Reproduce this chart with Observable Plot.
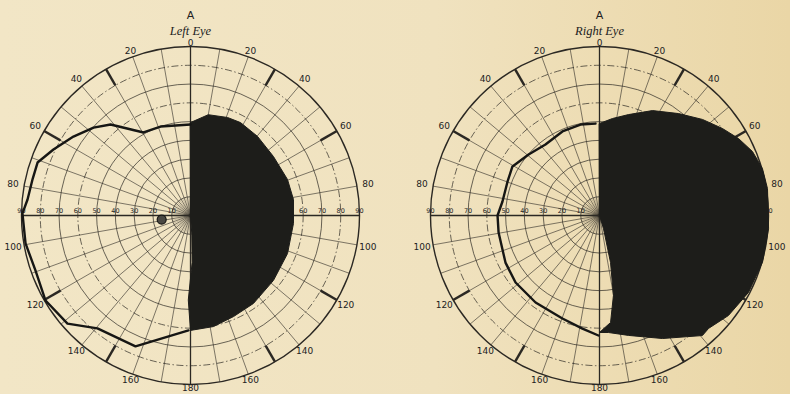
<!DOCTYPE html>
<html><head><meta charset="utf-8">
<script src="https://cdn.jsdelivr.net/npm/d3@7"></script>
<script src="https://cdn.jsdelivr.net/npm/@observablehq/plot@0.6"></script>
<style>
html,body{margin:0;padding:0;}
body{width:790px;height:394px;overflow:hidden;background:linear-gradient(90deg,#f2e6c6 0%,#f0e2bf 55%,#ead6a6 100%);}
#chart svg{display:block;}
</style></head><body><div id="chart"></div>
<script>
// ---------- data ----------
const eyes = ["Left Eye", "Right Eye"];
const titleLetters = ["A", "A"];
const gridEcc = [10, 20, 30, 40, 50, 60, 70, 80, 90];
const dashedEcc = [60, 80];
const meridianAngles = [0,10,20,30,40,50,60,70,80,90,100,110,120,130,140,150,160,170,180,190,200,210,220,230,240,250,260,270,280,290,300,310,320,330,340,350];
const centerSpokeAngles = [5,15,25,35,45,55,65,75,85,95,105,115,125,135,145,155,165,175,185,195,205,215,225,235,245,255,265,275,285,295,305,315,325,335,345,355];
const boldTickAngles = [30, 60, 120, 150, 210, 240, 300, 330];
const rimLabelAngles = [0, 20, 40, 60, 80, 100, 120, 140, 160, 180, -20, -40, -60, -80, -100, -120, -140, -160];
const rimLabels = ["0","20","40","60","80","100","120","140","160","180","20","40","60","80","100","120","140","160"];
const scaleLabelEcc = [10, 20, 30, 40, 50, 60, 70, 80, 90];
const scaleLabels = ["10","20","30","40","50","60","70","80","90"];

// Left eye: outer isopter (thick line) on the temporal side
const leftIsopterAngle = [0, -18.6, -29.5, -41.3, -47.8, -56, -64.3, -70.9, -77, -84.4, -89.3, -99.6, -109.5, -120.4, -131.3, -140.5, -157.2, -179];
const leftIsopterEcc   = [48.5, 50, 50.8, 64.5, 69.7, 75.2, 81, 86.2, 86.3, 87.2, 89.5, 89.1, 87.6, 89.5, 87.2, 77.9, 75.6, 61.2];
// Left eye: blind (black) half
const leftBlindAngle = [0, 10, 20.7, 28.3, 40.3, 54.6, 69.6, 81.2, 94.4, 111.4, 128, 144.4, 156.9, 168.3, 180, 181.5, 178, 176, 0];
const leftBlindEcc   = [49.5, 54.5, 55.8, 56.2, 55.2, 54.2, 55.1, 55.5, 55, 55.5, 56.1, 57.6, 58.5, 60.4, 61.2, 45, 25, 10, 0];
// Left eye: blind spot
const leftSpotAngle = [262];
const leftSpotEcc = [15.5];

// Right eye: isopter (thick line)
const rightIsopterAngle = [-2.5, -11.8, -23.8, -37.3, -49.3, -60.6, -69.7, -81.8, -90, -99.6, -116.6, -128.6, -143.7, -160.2, -171.4, -179.5];
const rightIsopterEcc   = [49, 49.5, 48.9, 47.5, 49.8, 53.2, 52.2, 52.2, 54.3, 54.5, 56, 57.2, 57.5, 58.3, 60.9, 63.9];
// Right eye: blind (black) area
const rightBlindAngle = [0, 7.6, 16, 26.8, 37.8, 47, 54.7, 61, 67.3, 73.9, 80.9, 94.4, 106, 117.3, 127.8, 136, 139.4, 152.9, 166.4, 175.6, 180, 174.1, 170.1, 166.8, 162.9, 0];
const rightBlindEcc   = [49, 52.1, 55.9, 62.6, 68.7, 75, 80.2, 84.6, 88.3, 90.3, 90.6, 90.3, 90.3, 89.3, 86.9, 83.6, 84.2, 73.6, 65.7, 62.5, 62.3, 57.3, 43.2, 25.7, 7.2, 0];

// ---------- helpers ----------
const rad = a => a * Math.PI / 180;
const px = (a, e) => e * Math.sin(rad(a));
const py = (a, e) => e * Math.cos(rad(a));
const zip = (eye, A, E) => A.map((a, i) => ({eye, a, e: E[i]}));
const perEye = f => eyes.flatMap(eye => f(eye));

const K = 169 / 90;            // pixels per degree of eccentricity
const W = 790, H = 394, CY = 215;
const pIn = 2 - (W - 1) / 409; // so that the two centres are 409px apart
const band = 409 * (1 - pIn);
const xHalf = band / 2 / K;

const circles = perEye(eye => gridEcc.filter(e => e < 90 && !dashedEcc.includes(e)).map(e => ({eye, e})));
const dashCircles = perEye(eye => dashedEcc.map(e => ({eye, e})));
const outer = perEye(eye => [{eye, e: 90}]);
const meridians = perEye(eye => meridianAngles.filter(a => a % 90 !== 0).map(a => ({eye, a})));
const spokes = perEye(eye => centerSpokeAngles.map(a => ({eye, a})));
const ticks = perEye(eye => boldTickAngles.map(a => ({eye, a})));
const rim = perEye(eye => rimLabelAngles.map((a, i) => ({eye, a, t: rimLabels[i]})));
const scale = perEye(eye => [...scaleLabelEcc.map((e, i) => ({eye, x: -e, t: scaleLabels[i]})), ...scaleLabelEcc.map((e, i) => ({eye, x: e, t: scaleLabels[i]}))]);
const axesV = perEye(eye => [{eye}]);

const leftIso = zip("Left Eye", leftIsopterAngle, leftIsopterEcc);
const leftFill = zip("Left Eye", leftBlindAngle, leftBlindEcc);
const rightIso = zip("Right Eye", rightIsopterAngle, rightIsopterEcc);
const rightFill = zip("Right Eye", rightBlindAngle, rightBlindEcc);
const spot = zip("Left Eye", leftSpotAngle, leftSpotEcc);

const ink = "#2b2823";
const rimR = a => 92 + 4 * Math.abs(Math.sin(rad(a)));

const chart = Plot.plot({
  width: W, height: H,
  marginLeft: 0, marginRight: 1, marginTop: 0, marginBottom: 0,
  style: {background: "transparent", color: ink},
  fx: {domain: eyes, paddingInner: pIn, paddingOuter: 0, round: false, axis: null, label: null},
  x: {domain: [-xHalf, xHalf], axis: null},
  y: {domain: [-(H - CY) / K, CY / K], axis: null},
  r: {type: "linear", domain: [0, 90], range: [0, 90 * K]},
  marks: [
    Plot.dot(circles, {fx: "eye", x: 0, y: 0, r: "e", fill: "none", stroke: ink, strokeWidth: 0.7}),
    Plot.dot(dashCircles, {fx: "eye", x: 0, y: 0, r: "e", fill: "none", stroke: ink, strokeWidth: 0.7, strokeDasharray: "7,2.5,1.5,2.5"}),
    Plot.link(meridians, {fx: "eye", x1: 0, y1: 0, x2: d => px(d.a, 90), y2: d => py(d.a, 90), stroke: ink, strokeWidth: 0.6}),
    Plot.link(spokes, {fx: "eye", x1: d => px(d.a, 2), y1: d => py(d.a, 2), x2: d => px(d.a, 10), y2: d => py(d.a, 10), stroke: ink, strokeWidth: 0.35, strokeOpacity: 0.6}),
    Plot.link(axesV, {fx: "eye", x1: 0, y1: 90, x2: 0, y2: -90, stroke: ink, strokeWidth: 1.3}),
    Plot.link(axesV, {fx: "eye", x1: -90, y1: 0, x2: 90, y2: 0, stroke: ink, strokeWidth: 1.6}),
    Plot.link(ticks, {fx: "eye", x1: d => px(d.a, 80), y1: d => py(d.a, 80), x2: d => px(d.a, 90), y2: d => py(d.a, 90), stroke: ink, strokeWidth: 2.4}),
    Plot.dot(outer, {fx: "eye", x: 0, y: 0, r: "e", fill: "none", stroke: ink, strokeWidth: 1.4}),
    Plot.text(rim, {fx: "eye", x: d => px(d.a, rimR(d.a)), y: d => py(d.a, rimR(d.a)), text: "t", fontSize: 9, fontFamily: "DejaVu Sans", fill: "#222"}),
    Plot.text(scale, {fx: "eye", x: "x", y: 0, dy: -5, text: "t", fontSize: 6.5, fontFamily: "DejaVu Sans", fill: "#222"}),
    Plot.line(leftFill, {fx: "eye", x: d => px(d.a, d.e), y: d => py(d.a, d.e), fill: "#1d1d1a", stroke: "#1d1d1a", strokeWidth: 1, curve: "linear-closed"}),
    Plot.line(rightFill, {fx: "eye", x: d => px(d.a, d.e), y: d => py(d.a, d.e), fill: "#1d1d1a", stroke: "#1d1d1a", strokeWidth: 1, curve: "linear-closed"}),
    Plot.line(leftIso, {fx: "eye", x: d => px(d.a, d.e), y: d => py(d.a, d.e), stroke: "#161614", strokeWidth: 2.4}),
    Plot.line(rightIso, {fx: "eye", x: d => px(d.a, d.e), y: d => py(d.a, d.e), stroke: "#161614", strokeWidth: 2.4}),
    Plot.dot(spot, {fx: "eye", x: d => px(d.a, d.e), y: d => py(d.a, d.e), r: 4.5, fill: "#4a4843", stroke: "#161614", strokeWidth: 1.2}),
    Plot.text(eyes, {fx: d => d, frameAnchor: "top", dy: 11, text: (d, i) => titleLetters[i], fontSize: 11, fontFamily: "DejaVu Sans", fill: "#222"}),
    Plot.text(eyes, {fx: d => d, frameAnchor: "top", dy: 26, text: d => d, fontSize: 12.5, fontStyle: "italic", fontFamily: "Liberation Serif", fill: "#222"})
  ]
});
document.getElementById("chart").appendChild(chart);
</script>
</body></html>
